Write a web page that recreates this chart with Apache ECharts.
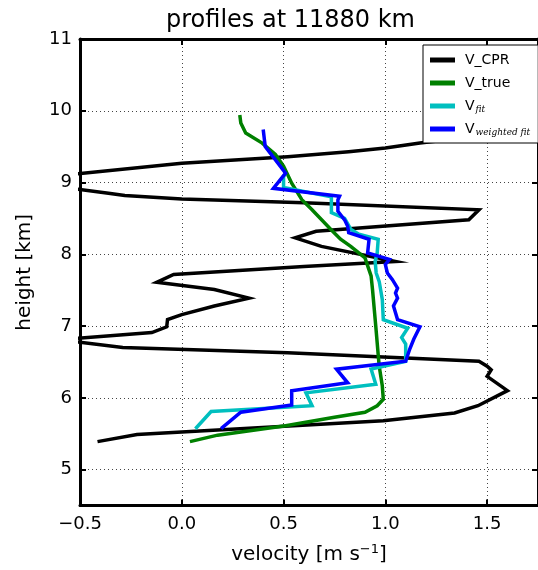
<!DOCTYPE html>
<html>
<head>
<meta charset="utf-8">
<script src="https://cdn.jsdelivr.net/npm/echarts@6/dist/echarts.min.js"></script>
<style>
html,body{margin:0;padding:0;background:#fff;}
#chart{width:538px;height:570px;}
</style>
</head>
<body>
<div id="chart"></div>
<script>
// ---- data ----
const xTicks = [-0.5, 0.0, 0.5, 1.0, 1.5];
const yTicks = [5, 6, 7, 8, 9, 10, 11];

const cprX = [-0.414, -0.22, 0.99, 1.34, 1.455, 1.60, 1.50, 1.52, 1.50, 1.46, 0.52, -0.29, -0.60, -0.147, -0.074, -0.07, 0.0, 0.16, 0.33, 0.16, -0.123, -0.04, 0.60, 1.05, 0.686, 0.557, 0.66, 1.41, 1.46, 0.60, 0.0, -0.28, -0.36, -0.83, 0.0, 0.52, 0.82, 1.0, 1.17, 1.32, 1.60];
const cprY = [5.39, 5.49, 5.68, 5.79, 5.89, 6.10, 6.30, 6.39, 6.44, 6.51, 6.63, 6.70, 6.81, 6.91, 6.99, 7.09, 7.16, 7.28, 7.39, 7.51, 7.61, 7.72, 7.83, 7.90, 8.11, 8.23, 8.32, 8.48, 8.62, 8.72, 8.77, 8.82, 8.85, 9.03, 9.27, 9.36, 9.43, 9.48, 9.55, 9.60, 9.68];

const trueX = [0.04, 0.176, 0.51, 0.75, 0.90, 0.96, 0.99, 0.985, 0.97, 0.965, 0.953, 0.937, 0.93, 0.90, 0.83, 0.78, 0.735, 0.64, 0.59, 0.54, 0.50, 0.46, 0.395, 0.314, 0.29, 0.285];
const trueY = [5.39, 5.48, 5.61, 5.73, 5.80, 5.89, 5.98, 6.17, 6.44, 6.60, 7.00, 7.51, 7.70, 7.95, 8.11, 8.21, 8.34, 8.62, 8.76, 8.99, 9.23, 9.39, 9.55, 9.69, 9.83, 9.94];

const fitX = [0.067, 0.144, 0.64, 0.61, 0.953, 0.93, 1.10, 1.10, 1.08, 1.11, 0.99, 0.985, 0.97, 0.955, 0.95, 0.96, 0.965, 0.87, 0.83, 0.80, 0.735, 0.735, 0.50, 0.50, 0.51];
const fitY = [5.57, 5.81, 5.89, 6.07, 6.19, 6.40, 6.51, 6.75, 6.84, 6.97, 7.09, 7.37, 7.62, 7.74, 7.90, 8.02, 8.21, 8.28, 8.35, 8.50, 8.58, 8.80, 8.93, 9.09, 9.12];

const wfitX = [0.193, 0.29, 0.54, 0.54, 0.815, 0.76, 1.10, 1.12, 1.14, 1.17, 1.06, 1.04, 1.06, 1.05, 1.06, 1.034, 1.01, 1.0, 1.02, 0.913, 0.92, 0.82, 0.815, 0.80, 0.767, 0.767, 0.775, 0.45, 0.51, 0.41, 0.40];
const wfitY = [5.57, 5.80, 5.90, 6.10, 6.21, 6.40, 6.51, 6.68, 6.82, 6.99, 7.09, 7.28, 7.39, 7.46, 7.53, 7.65, 7.74, 7.86, 7.93, 8.02, 8.21, 8.30, 8.39, 8.48, 8.60, 8.76, 8.81, 8.92, 9.13, 9.50, 9.74];

const seriesNames = ['V_CPR', 'V_true', 'V_fit', 'V_weighted'];
const seriesColors = ['#000000', '#008000', '#00bfbf', '#0000ff'];

function zip(a, b) { return a.map((v, i) => [v, b[i]]); }
const seriesData = [zip(cprX, cprY), zip(trueX, trueY), zip(fitX, fitY), zip(wfitX, wfitY)];

const FONT = 'DejaVu Sans';
const fmt = v => (Math.abs(v) < 1e-9 ? '0.0' : v.toFixed(1)).replace('-', '\u2212');

const chart = echarts.init(document.getElementById('chart'), null, {renderer: 'canvas'});

const spine = {onZero: false, lineStyle: {color: '#000', width: 3}};
const tickStyle = {color: '#000', width: 2};
const gridLine = {show: true, lineStyle: {color: '#444', width: 1, type: [1, 3]}};

chart.setOption({
  animation: false,
  backgroundColor: '#fff',
  title: {
    text: 'profiles at 11880 km',
    left: 166, top: 9, padding: 0,
    textStyle: {fontFamily: FONT, fontSize: 24, fontWeight: 'normal', color: '#000'}
  },
  grid: {left: 80, top: 39, width: 463, height: 467, containLabel: false},
  legend: {
    orient: 'vertical',
    left: 423, top: 45,
    padding: [7, 8, 6, 7],
    itemWidth: 25, itemHeight: 5, itemGap: 7,
    icon: 'rect',
    backgroundColor: '#fff',
    borderColor: '#000', borderWidth: 1, borderRadius: 0,
    data: seriesNames,
    formatter: function (n) {
      if (n === 'V_fit') return 'V{s|fit}';
      if (n === 'V_weighted') return 'V{s|weighted fit}';
      return n;
    },
    textStyle: {
      fontFamily: FONT, fontSize: 14, color: '#000', lineHeight: 16, padding: [0, 0, 0, 5],
      rich: {
        s: {fontFamily: 'DejaVu Serif', fontStyle: 'italic', fontSize: 9, color: '#000', padding: [7, 0, 0, 1]}
      }
    }
  },
  xAxis: [{
    type: 'value', min: -0.5, max: 1.75, interval: 0.5, position: 'bottom',
    axisLine: spine,
    axisTick: {show: true, inside: true, length: 6, lineStyle: tickStyle, customValues: xTicks},
    axisLabel: {customValues: xTicks, formatter: fmt, fontFamily: FONT, fontSize: 18, color: '#000', margin: 10},
    splitLine: gridLine,
    name: 'velocity [m s{sup|\u22121}]',
    nameLocation: 'middle', nameGap: 38,
    nameTextStyle: {fontFamily: FONT, fontSize: 20, color: '#000',
      rich: {sup: {fontFamily: FONT, fontSize: 13, color: '#000', padding: [0, 0, 10, 0]}}}
  }, {
    type: 'value', min: -0.5, max: 1.75, interval: 0.5, position: 'top',
    axisLine: spine,
    axisTick: {show: true, inside: true, length: 6, lineStyle: tickStyle, customValues: xTicks},
    axisLabel: {show: false},
    splitLine: {show: false}
  }],
  yAxis: [{
    type: 'value', min: 4.5, max: 11, position: 'left',
    axisLine: spine,
    axisTick: {show: true, inside: true, length: 6, lineStyle: tickStyle, customValues: yTicks},
    axisLabel: {customValues: yTicks, fontFamily: FONT, fontSize: 18, color: '#000', margin: 8},
    splitLine: gridLine,
    name: 'height [km]',
    nameLocation: 'middle', nameGap: 45, nameRotate: 90,
    nameTextStyle: {fontFamily: FONT, fontSize: 20, color: '#000'}
  }, {
    type: 'value', min: 4.5, max: 11, position: 'right',
    axisLine: spine,
    axisTick: {show: true, inside: true, length: 6, lineStyle: tickStyle, customValues: yTicks},
    axisLabel: {show: false},
    splitLine: {show: false}
  }],
  series: seriesNames.map((n, i) => ({
    name: n, type: 'line', xAxisIndex: 0, yAxisIndex: 0,
    data: seriesData[i],
    showSymbol: false, symbol: 'none', clip: true,
    color: seriesColors[i],
    itemStyle: {color: seriesColors[i]},
    lineStyle: {color: seriesColors[i], width: 3.5, join: 'miter'},
    z: 2 + i
  }))
});
</script>
</body>
</html>
